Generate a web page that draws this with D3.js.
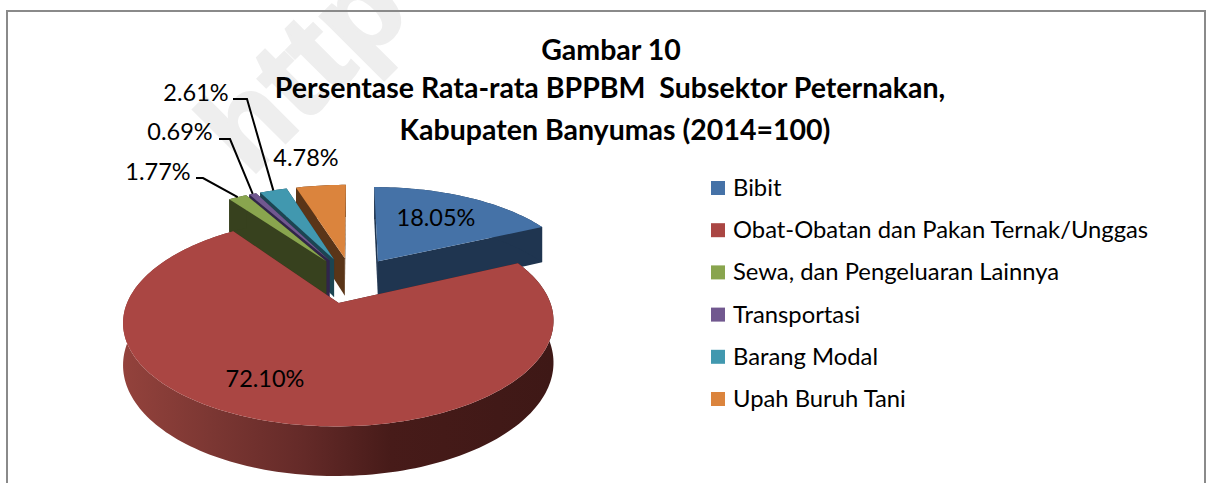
<!DOCTYPE html>
<html><head><meta charset="utf-8">
<script src="https://cdn.jsdelivr.net/npm/d3@7"></script>
<style>html,body{margin:0;padding:0;background:#fff}svg{display:block}text{font-family:Lato,"Open Sans",sans-serif;fill:#000}</style>
</head><body><svg id="c" width="1212" height="483"></svg>
<script>
const categories = ["Bibit","Obat-Obatan dan Pakan Ternak/Unggas","Sewa, dan Pengeluaran Lainnya","Transportasi","Barang Modal","Upah Buruh Tani"];
const values = [18.05,72.10,1.77,0.69,2.61,4.78];
const titleLines = ["Gambar 10","Persentase Rata-rata BPPBM  Subsektor Peternakan,","Kabupaten Banyumas (2014=100)"];
const topColors = ["#4572a7","#aa4643","#89a54e","#71588f","#4198af","#db843d"];
const wallColors = ["#1f3550","#4a1c1a","#37411e","#30254a","#1c4552","#5a3518"];

const W=1212,H=483, svg=d3.select("#c");
const cx=352, cy=280, R=203, explode=50, tilt=0.458, persp=0.00085, depth=39;

// watermark and frame
svg.append("text").attr("transform","translate(250,178) rotate(-45)")
  .style("font-family","'Liberation Sans'").attr("font-size",122).attr("font-weight",700)
  .style("fill","#eeeeee").style("stroke","#eeeeee").style("stroke-width",3).text("http");
svg.append("path").attr("d",`M7,${H}V11H1205V${H}`).attr("fill","none").attr("stroke","#8a8a8a").attr("stroke-width",2);

// pie geometry: d3.pie supplies the angles, a perspective projection supplies the screen points
const arcs=d3.pie().sort(null).value(d=>d)(values);
const scr=(X,Y,Z)=>{const s=1/(1+persp*Y);return [cx+X*s, cy-tilt*Y*s+Z*s];};
const apex=a=>{const m=(a.startAngle+a.endAngle)/2;return [explode*Math.sin(m),explode*Math.cos(m)];};
const rim=(a,t,z)=>{const [ox,oy]=apex(a);return scr(ox+R*Math.sin(t),oy+R*Math.cos(t),z);};
const mid=(a,z)=>{const [ox,oy]=apex(a);return scr(ox,oy,z);};
const sweep=(a,z)=>{const n=Math.max(6,Math.ceil((a.endAngle-a.startAngle)*40));
  return d3.range(n+1).map(i=>rim(a,a.startAngle+(a.endAngle-a.startAngle)*i/n,z));};
const line=d3.line();

const defs=svg.append("defs");
const grad=defs.append("linearGradient").attr("id","redWall").attr("gradientUnits","userSpaceOnUse")
  .attr("x1",124).attr("x2",553).attr("y1",0).attr("y2",0);
[[0,"#93423c"],[0.2,"#7c3733"],[0.42,"#642a28"],[0.62,"#471b19"],[1,"#3e1816"]]
  .forEach(([o,c])=>grad.append("stop").attr("offset",o).attr("stop-color",c));

const drawSlice=i=>{
  const a=arcs[i], g=svg.append("g");
  const radial=t=>g.append("path")
    .attr("d",line([mid(a,0),rim(a,t,0),rim(a,t,depth),mid(a,depth)])+"Z").attr("fill",wallColors[i]);
  radial(a.endAngle); radial(a.startAngle);
  g.append("path").attr("d",line([...sweep(a,0),...sweep(a,depth).reverse()])+"Z")
    .attr("fill",i===1?"url(#redWall)":wallColors[i]);
  g.append("path").attr("d",line([mid(a,0),...sweep(a,0)])+"Z").attr("fill",topColors[i]);
};
[0,5,4,3,2,1].forEach(drawSlice);

// title
const titleX=[611,610,615], titleY=[60,98,140];
svg.selectAll("text.t").data(titleLines).join("text").attr("class","t")
  .attr("x",(d,i)=>titleX[i]).attr("y",(d,i)=>titleY[i]).attr("text-anchor","middle")
  .attr("font-size",28.5).attr("font-weight",700).style("white-space","pre").attr("xml:space","preserve").text(d=>d);

// data labels
const fmt=v=>v.toFixed(2)+"%";
const labelPos=[[436,226],[265,387],[158,180],[180,140],[196,101],[306,166]];
svg.selectAll("text.l").data(values).join("text").attr("class","l")
  .attr("x",(d,i)=>labelPos[i][0]).attr("y",(d,i)=>labelPos[i][1]).attr("text-anchor","middle")
  .attr("font-size",23.5).text(fmt);

// leader lines
const leaders=[[2,196,203,178],[3,219,230,139],[4,233,247,99]];
leaders.forEach(([i,x0,x1,y])=>{
  const m=(arcs[i].startAngle+arcs[i].endAngle)/2;
  svg.append("path").attr("d",line([[x0,y],[x1,y],rim(arcs[i],m,0)]))
    .attr("fill","none").attr("stroke","#000").attr("stroke-width",2);
});

// legend
const lx=711, ly=d3.scalePoint().domain(categories).range([188,399]);
const leg=svg.selectAll("g.k").data(categories).join("g").attr("class","k").attr("transform",d=>`translate(${lx},${ly(d)})`);
leg.append("rect").attr("y",-7).attr("width",14).attr("height",14).attr("fill",(d,i)=>topColors[i]);
leg.append("text").attr("x",22).attr("y",8).attr("font-size",23.8).text(d=>d);
</script></body></html>
